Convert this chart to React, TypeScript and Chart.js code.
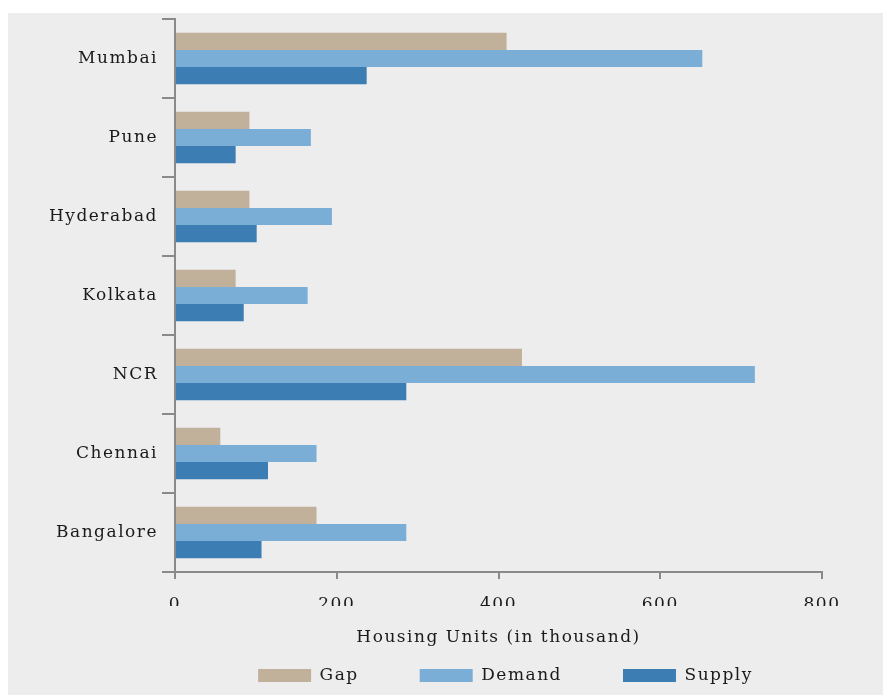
import React, { useEffect, useRef } from 'react';
import { Chart, registerables } from 'chart.js';

Chart.register(...registerables);

const cities = ['Mumbai', 'Pune', 'Hyderabad', 'Kolkata', 'NCR', 'Chennai', 'Bangalore'];
const gapValues = [410, 92, 92, 75, 429, 56, 175];
const demandValues = [652, 168, 194, 164, 717, 175, 286];
const supplyValues = [237, 75, 101, 85, 286, 115, 107];
const xTickValues = [0, 200, 400, 600, 800];

const FONT = '"DejaVu Serif", "Liberation Serif", serif';
const SPACING = '1.5px';
const TEXT = '#1a1a1a';
const AXIS = '#8a8a8a';

const letterSpacingPlugin = {
  id: 'letterSpacing',
  beforeLayout(chart: any) {
    chart.ctx.letterSpacing = SPACING;
  },
  beforeDraw(chart: any) {
    chart.ctx.letterSpacing = SPACING;
  },
};

const legendShiftPlugin = {
  id: 'legendShift',
  afterLayout(chart: any) {
    const l = chart.legend;
    if (l) {
      l.left += 7;
      l.right += 7;
    }
  },
};

export default function App() {
  const ref = useRef<HTMLCanvasElement | null>(null);

  useEffect(() => {
    if (!ref.current) return;
    const chart = new Chart(ref.current, {
      type: 'bar',
      data: {
        labels: cities,
        datasets: [
          { label: 'Gap', data: gapValues, backgroundColor: '#c1b19a', borderWidth: 0 },
          { label: 'Demand', data: demandValues, backgroundColor: '#7aaed6', borderWidth: 0 },
          { label: 'Supply', data: supplyValues, backgroundColor: '#3c7eb4', borderWidth: 0 },
        ],
      },
      options: {
        indexAxis: 'y',
        responsive: false,
        maintainAspectRatio: false,
        animation: false,
        datasets: { bar: { categoryPercentage: 0.65, barPercentage: 1.0 } },
        layout: { padding: { top: 6, right: 61, bottom: 1, left: 0 } },
        plugins: {
          tooltip: { enabled: false },
          legend: {
            position: 'bottom',
            fullSize: false,
            labels: {
              boxWidth: 53,
              boxHeight: 13,
              padding: 61,
              color: TEXT,
              font: { family: FONT, size: 17 },
            },
          },
        },
        scales: {
          x: {
            type: 'linear',
            min: 0,
            max: 800,
            afterBuildTicks: (scale: any) => {
              scale.ticks = xTickValues.map((v) => ({ value: v }));
            },
            afterFit: (scale: any) => {
              scale.height = 34;
            },
            ticks: { color: TEXT, padding: 15, font: { family: FONT, size: 17 } },
            grid: { drawOnChartArea: false, drawTicks: true, tickLength: 7, color: AXIS, lineWidth: 2 },
            border: { display: true, color: AXIS, width: 2 },
            title: {
              display: true,
              text: 'Housing Units (in thousand)',
              color: TEXT,
              font: { family: FONT, size: 17 },
              padding: { top: 0, bottom: -42 },
            },
          },
          y: {
            afterFit: (scale: any) => {
              scale.width = 167;
              scale.paddingTop = 0;
              scale.paddingBottom = 0;
            },
            ticks: { color: TEXT, padding: 4, font: { family: FONT, size: 17 } },
            grid: { drawOnChartArea: false, drawTicks: true, tickLength: 13, color: AXIS, lineWidth: 2, offset: true },
            border: { display: true, color: AXIS, width: 2 },
          },
        },
      },
      plugins: [letterSpacingPlugin, legendShiftPlugin],
    } as any);
    return () => chart.destroy();
  }, []);

  return (
    <div
      style={{
        position: 'fixed',
        left: 8,
        top: 13,
        width: 875,
        height: 682,
        background: '#ededed',
      }}
    >
      <canvas ref={ref} width={875} height={682} style={{ display: 'block' }} />
    </div>
  );
}
